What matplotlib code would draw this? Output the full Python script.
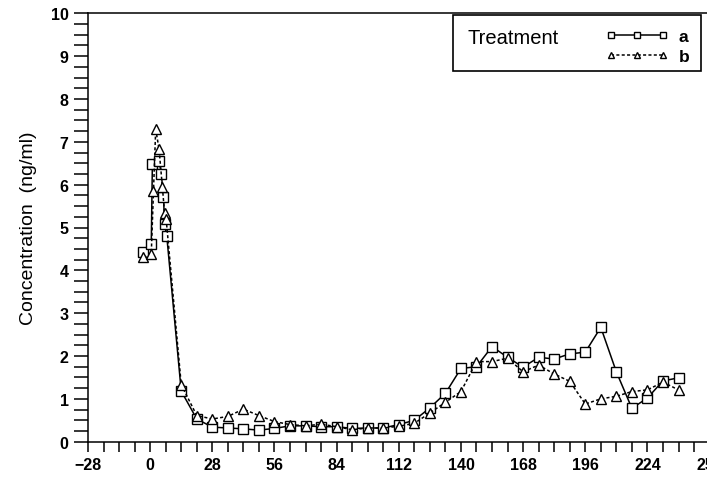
import numpy as np
import matplotlib
matplotlib.use("Agg")
import matplotlib.pyplot as plt
import matplotlib.patches as mpatches
from matplotlib.ticker import MultipleLocator

plt.rcParams['font.family'] = ['Liberation Sans', 'DejaVu Sans']

# days after treatment
weekly_days = list(range(21, 239, 7))

a_days = [-3, 0.5, 1, 4, 5, 6, 6.5, 7.5, 14] + weekly_days
a_vals = [4.42, 4.62, 6.48, 6.56, 6.26, 5.72, 5.08, 4.79, 1.18,
          0.53, 0.34, 0.32, 0.30, 0.27, 0.31, 0.37, 0.37, 0.35, 0.35, 0.31,
          0.32, 0.32, 0.40, 0.50, 0.79, 1.13, 1.71, 1.75, 2.22, 1.97, 1.74,
          1.97, 1.93, 2.05, 2.09, 2.67, 1.63, 0.78, 1.02, 1.42, 1.49]

b_days = [-3, 0.5, 1.5, 2.5, 4, 5.5, 6.5, 7.2, 14] + weekly_days
b_vals = [4.30, 4.38, 5.86, 7.30, 6.83, 5.95, 5.33, 5.20, 1.33,
          0.61, 0.53, 0.59, 0.76, 0.61, 0.47, 0.40, 0.37, 0.41, 0.35, 0.28,
          0.32, 0.32, 0.36, 0.43, 0.67, 0.92, 1.17, 1.87, 1.87, 1.95, 1.63,
          1.79, 1.58, 1.41, 0.88, 1.00, 1.06, 1.17, 1.21, 1.39, 1.21]

fig = plt.figure(figsize=(7.07, 4.81), dpi=100)
# axes runs past the right edge of the picture, like the scanned original
ax = fig.add_axes([88 / 707, 38.3 / 481, 652 / 707, 428.4 / 481])

ax.plot(a_days, a_vals, color='black', lw=1.1, marker='s', ms=7,
        mfc='white', mec='black', mew=1.0, label='a')
ax.plot(b_days, b_vals, color='black', lw=1.1, ls=(0, (2, 1.5)), marker='^',
        ms=7, mfc='white', mec='black', mew=1.0, label='b')

ax.set_xlim(-28, 265.7)
ax.set_ylim(0, 10)
ax.xaxis.set_major_locator(MultipleLocator(28))
ax.xaxis.set_minor_locator(MultipleLocator(7))
ax.yaxis.set_major_locator(MultipleLocator(1))
ax.yaxis.set_minor_locator(MultipleLocator(0.25))

ax.tick_params(axis='y', which='both', direction='out', length=10, width=1.1, pad=4)
ax.tick_params(axis='x', which='both', direction='out', length=7, width=1.1, pad=4)
ax.set_xticklabels([str(int(t)).replace('-', '\u2212') for t in ax.get_xticks()])
for lab in ax.get_xticklabels() + ax.get_yticklabels():
    lab.set_fontsize(11.5)
    lab.set_fontweight('bold')

for s in ax.spines.values():
    s.set_linewidth(1.1)

ax.set_ylabel('Concentration  (ng/ml)', fontsize=14, labelpad=10)

leg = ax.legend(loc='upper left', bbox_to_anchor=(597 / 707, 1 - 21 / 481),
                bbox_transform=fig.transFigure, frameon=False, numpoints=3,
                handlelength=3.6, markerscale=0.6, fontsize=12.5,
                handletextpad=0.6, labelspacing=0.3, borderpad=0)
for t in leg.get_texts():
    t.set_fontweight('bold')

fig.add_artist(mpatches.Rectangle((453 / 707, 1 - 72 / 481), 248 / 707, 56 / 481,
                                  transform=fig.transFigure, fill=False,
                                  lw=1.2, ec='black'))
fig.text(468 / 707, 1 - 39 / 481, 'Treatment', fontsize=14.5, va='center')

fig.savefig('out.png', dpi=100)
